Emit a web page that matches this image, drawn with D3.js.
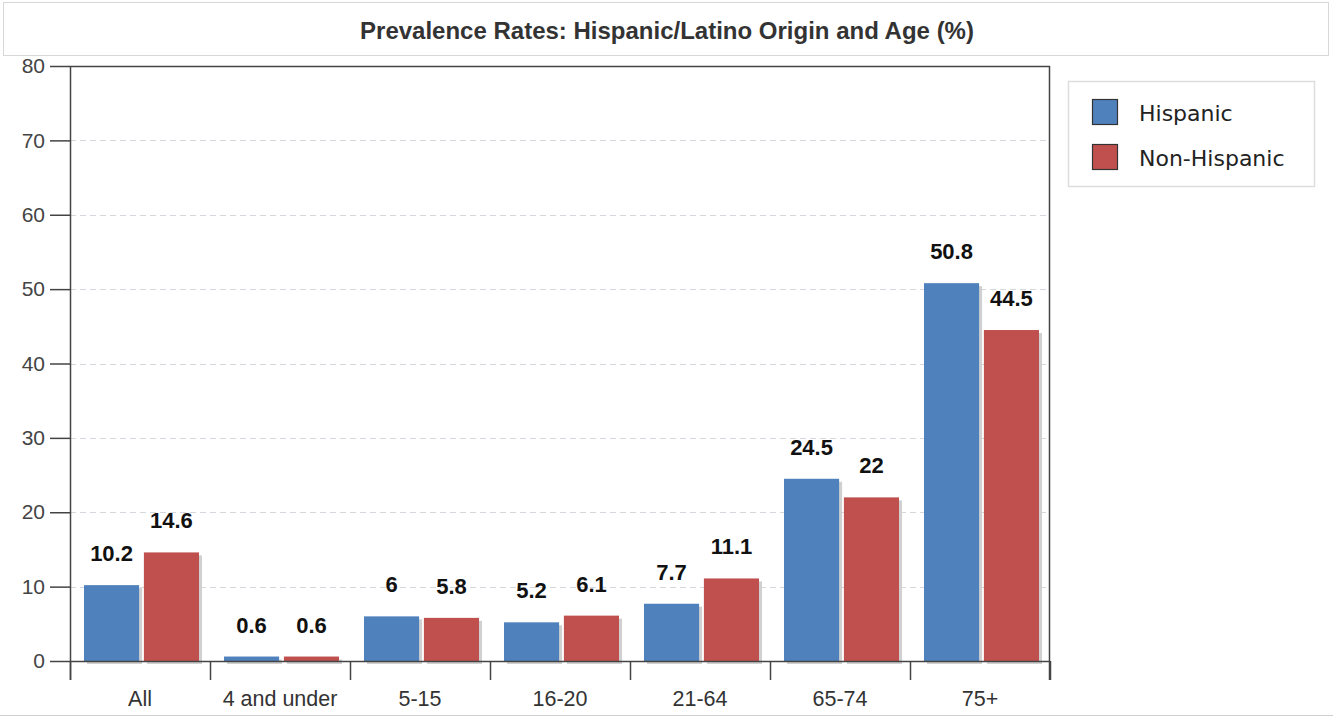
<!DOCTYPE html>
<html><head><meta charset="utf-8">
<script src="https://cdn.jsdelivr.net/npm/d3@7"></script>
<style>body{margin:0;background:#fff;} svg{display:block;}</style>
</head><body>
<svg id="c" width="1333" height="717"></svg>
<script>
const categories = ["All","4 and under","5-15","16-20","21-64","65-74","75+"];
const hispanic = [10.2,0.6,6,5.2,7.7,24.5,50.8];
const nonHispanic = [14.6,0.6,5.8,6.1,11.1,22,44.5];
const seriesNames = ["Hispanic","Non-Hispanic"];
const colors = ["#4f81bd","#c0504d"];
const yTicks = [0,10,20,30,40,50,60,70,80];
const title = "Prevalence Rates: Hispanic/Latino Origin and Age (%)";

const svg = d3.select("#c");
const L=70,R=1050,T=66,B=661;
const x = d3.scaleBand().domain(categories).range([L,R]).paddingInner(0).paddingOuter(0);
const x1 = d3.scaleBand().domain(seriesNames).range([14, 140-11]).paddingInner(0.08);
const y = d3.scaleLinear().domain([0,80]).range([B,T]);
const font = "'Liberation Sans', Arial, sans-serif";

// title box
svg.append("rect").attr("x",3.5).attr("y",2.5).attr("width",1325).attr("height",53)
  .attr("fill","#fff").attr("stroke","#d8d8d8");
svg.append("text").attr("x",667).attr("y",39).attr("text-anchor","middle")
  .attr("font-family",font).attr("font-weight","bold").attr("font-size",24).attr("fill","#333").text(title);
// bottom outer line
svg.append("line").attr("x1",0).attr("x2",1333).attr("y1",715.5).attr("y2",715.5).attr("stroke","#d0d0d0");

// grid
svg.append("g").selectAll("line").data(yTicks.filter(d=>d>0&&d<80)).join("line")
  .attr("x1",L).attr("x2",R).attr("y1",d=>Math.round(y(d))+0.5).attr("y2",d=>Math.round(y(d))+0.5)
  .attr("stroke","#d4d8de").attr("stroke-dasharray","6,4");

// bars
const data = categories.map((c,i)=>({c, vals:[hispanic[i], nonHispanic[i]]}));
const g = svg.append("g");
data.forEach(d=>{
  d.vals.forEach((v,j)=>{
    const bx = x(d.c)+x1(seriesNames[j]);
    const w = x1.bandwidth();
    g.append("rect").attr("x",bx+3).attr("y",y(v)+3).attr("width",w).attr("height",B-y(v)).attr("fill","#d0d0d0");
  });
});
data.forEach(d=>{
  d.vals.forEach((v,j)=>{
    const bx = x(d.c)+x1(seriesNames[j]);
    const w = x1.bandwidth();
    g.append("rect").attr("x",bx).attr("y",y(v)).attr("width",w).attr("height",B-y(v)).attr("fill",colors[j]);
    g.append("text").attr("x",bx+w/2).attr("y",y(v)-24).attr("text-anchor","middle")
      .attr("font-family",font).attr("font-weight","bold").attr("font-size",22).attr("fill","#111").text(v);
  });
});

// frame
svg.append("line").attr("x1",L).attr("x2",R).attr("y1",T+0.5).attr("y2",T+0.5).attr("stroke","#444").attr("stroke-width",1.5);
svg.append("line").attr("x1",R-0.5).attr("x2",R-0.5).attr("y1",T).attr("y2",680).attr("stroke","#444").attr("stroke-width",1.5);

// y axis
const ya = svg.append("g").attr("transform",`translate(${L},0)`)
  .call(d3.axisLeft(y).tickValues(yTicks).tickSize(20).tickPadding(5));
ya.select(".domain").attr("d",`M0.5,${T}V680`).attr("stroke","#444").attr("stroke-width",1.5);
ya.selectAll(".tick line").attr("stroke","#444").attr("stroke-width",1.5);
ya.selectAll("text").attr("font-family",font).attr("font-size",21).attr("fill","#444");

// x axis
svg.append("line").attr("x1",L).attr("x2",R).attr("y1",B+0.5).attr("y2",B+0.5).attr("stroke","#444").attr("stroke-width",1.5);
const xa = svg.append("g").attr("transform",`translate(0,${B})`)
  .call(d3.axisBottom(x).tickSize(0).tickPadding(30));
xa.select(".domain").remove();
xa.selectAll("text").attr("font-family",font).attr("font-size",21.5).attr("fill","#333");
svg.append("g").selectAll("line").data(categories.concat(["_end"])).join("line")
  .attr("x1",(d,i)=>L+i*x.bandwidth()+0.5).attr("x2",(d,i)=>L+i*x.bandwidth()+0.5)
  .attr("y1",B).attr("y2",680).attr("stroke","#444").attr("stroke-width",1.5);

// legend
const lg = svg.append("g");
lg.append("rect").attr("x",1068.5).attr("y",81.5).attr("width",246).attr("height",105).attr("fill","#fff").attr("stroke","#ddd").attr("stroke-width",1.5);
seriesNames.forEach((s,i)=>{
  lg.append("rect").attr("x",1092.5).attr("y",99.5+i*45).attr("width",25).attr("height",25).attr("fill",colors[i]).attr("stroke","#333").attr("stroke-width",1.2);
  lg.append("text").attr("x",1139).attr("y",121+i*45).attr("font-family","'DejaVu Sans', sans-serif").attr("font-size",22).attr("fill","#222").text(s);
});
</script>
</body></html>
